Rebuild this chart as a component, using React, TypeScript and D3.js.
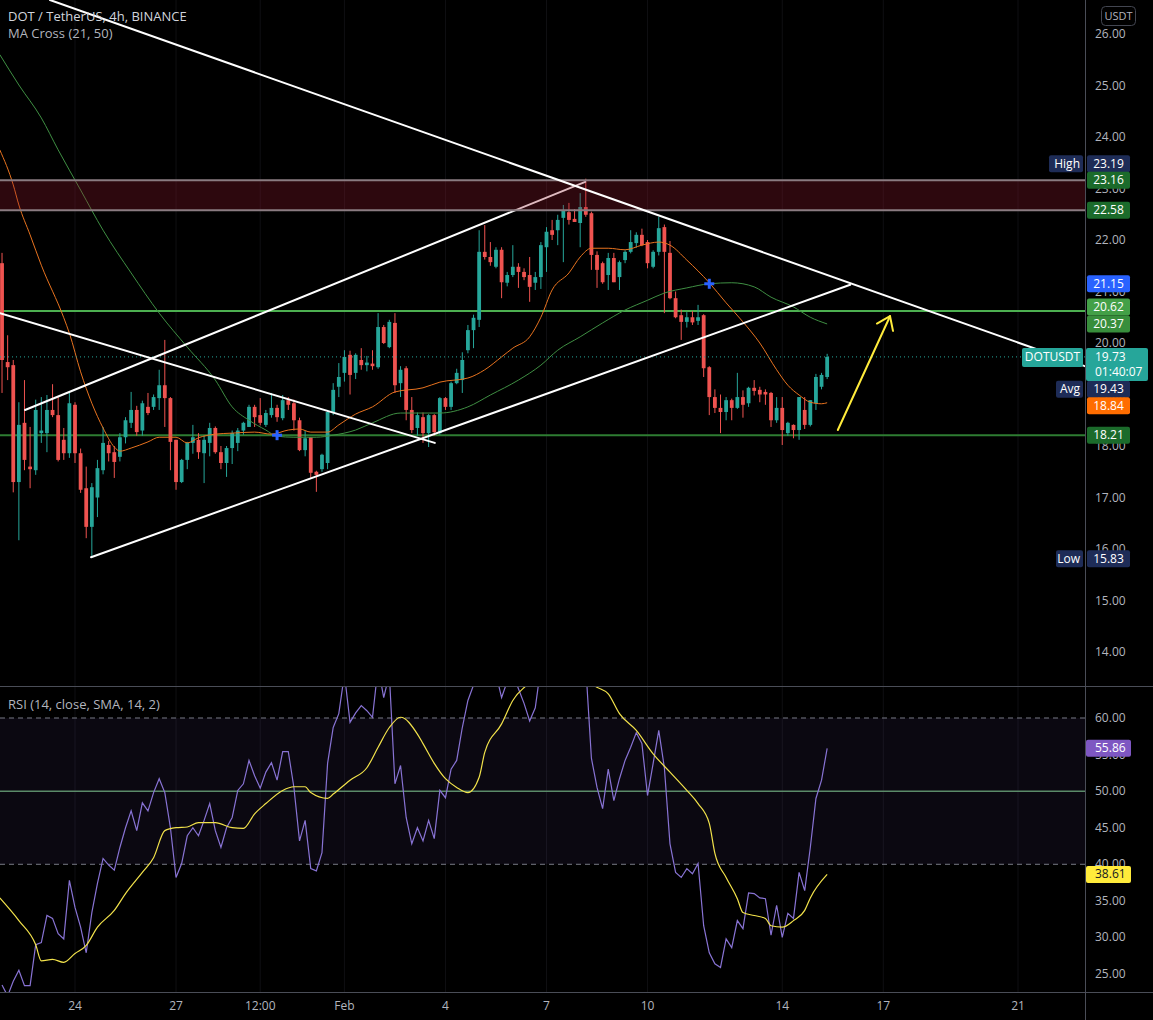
import * as d3 from 'd3'

const FONT = '"Open Sans", "Noto Sans", sans-serif'
const UP = '#26a69a'
const DOWN = '#ef5350'
const TEXT = '#b2b5be'

const W = 1153
const H = 1020
const AXIS_X = 1085
const PRICE_BOTTOM = 686
const RSI_BOTTOM = 992

// first 4h bar visible on the chart
const FIRST_BAR = new Date(2021, 0, 21, 20)
const BAR_MS = 4 * 3600 * 1000

// [open, high, low, close]
const candles: [number, number, number, number][] = [
  [21.55, 21.75, 19.03, 19.67], [19.63, 20.15, 19.28, 19.53], [19.57, 19.67, 17.1, 17.3], [17.3, 18.85, 16.17, 18.41],
  [18.45, 19.28, 17.53, 17.73], [17.6, 18.37, 17.18, 17.55], [17.53, 18.9, 17.44, 18.7], [18.25, 18.95, 18.06, 18.3],
  [18.25, 18.99, 17.88, 18.7], [18.7, 19.2, 18.56, 18.6], [18.6, 18.95, 17.7, 17.73], [18.12, 18.35, 17.73, 17.86],
  [17.86, 19.03, 17.77, 18.83], [18.8, 18.85, 17.67, 17.86], [17.86, 17.95, 17.09, 17.15], [17.18, 17.6, 16.21, 16.43],
  [16.43, 17.28, 15.83, 17.2], [17.0, 17.73, 16.62, 17.57], [17.53, 18.37, 17.45, 18.06], [18.02, 18.1, 17.7, 17.86],
  [17.88, 18.0, 17.38, 17.69], [17.79, 18.25, 17.7, 18.17], [18.17, 18.56, 18.05, 18.5], [18.45, 19.05, 18.35, 18.7],
  [18.7, 18.78, 18.2, 18.27], [18.3, 18.88, 18.2, 18.83], [18.76, 19.03, 18.6, 18.64], [18.76, 19.0, 18.7, 18.95],
  [18.93, 19.48, 18.7, 19.18], [19.18, 20.06, 18.37, 18.93], [18.93, 18.95, 17.53, 18.08], [18.12, 18.12, 17.15, 17.3],
  [17.3, 17.75, 17.28, 17.73], [17.73, 18.08, 17.55, 18.06], [18.06, 18.41, 17.85, 18.17], [18.12, 18.25, 17.75, 17.88],
  [17.86, 18.2, 17.28, 18.12], [18.06, 18.45, 17.8, 18.35], [18.35, 18.38, 17.85, 17.88], [17.88, 18.0, 17.55, 17.67],
  [17.67, 18.0, 17.4, 17.96], [17.96, 18.3, 17.65, 18.25], [18.06, 18.35, 17.9, 18.3], [18.3, 18.47, 18.22, 18.45],
  [18.37, 18.8, 18.37, 18.76], [18.76, 18.8, 18.37, 18.56], [18.6, 18.93, 18.4, 18.45], [18.41, 18.7, 18.37, 18.64],
  [18.6, 19.03, 18.55, 18.74], [18.74, 18.8, 18.47, 18.56], [18.54, 18.99, 18.5, 18.89], [18.89, 18.95, 18.7, 18.8],
  [18.83, 18.9, 18.3, 18.5], [18.5, 18.55, 17.9, 17.92], [17.92, 18.3, 17.8, 18.15], [18.17, 18.17, 17.38, 17.48],
  [17.5, 17.52, 17.11, 17.44], [17.55, 17.85, 17.5, 17.83], [17.67, 18.7, 17.55, 18.66], [18.66, 19.22, 18.6, 19.09],
  [19.15, 19.61, 18.95, 19.34], [19.42, 19.86, 19.25, 19.73], [19.77, 19.85, 19.0, 19.38], [19.42, 19.8, 19.3, 19.77],
  [19.67, 19.9, 19.48, 19.57], [19.57, 19.75, 19.45, 19.62], [19.6, 19.86, 19.48, 19.55], [19.53, 20.58, 19.5, 20.31],
  [20.31, 20.35, 19.98, 20.0], [19.92, 20.45, 19.9, 20.41], [20.39, 20.58, 19.03, 19.18], [19.22, 19.55, 18.95, 19.48],
  [19.51, 19.55, 18.5, 18.7], [18.7, 18.95, 18.25, 18.31], [18.35, 18.65, 18.2, 18.6], [18.56, 18.65, 18.06, 18.25],
  [18.25, 18.62, 17.98, 18.6], [18.6, 18.62, 18.2, 18.27], [18.25, 18.95, 18.22, 18.93], [18.93, 18.95, 18.7, 18.76],
  [18.76, 19.25, 18.7, 19.22], [19.22, 19.5, 19.2, 19.42], [19.28, 19.82, 19.03, 19.67], [19.86, 20.35, 19.8, 20.25],
  [20.25, 20.55, 19.9, 20.49], [20.45, 22.19, 20.31, 21.77], [21.77, 22.29, 21.62, 21.67], [21.67, 21.96, 21.5, 21.57],
  [21.48, 21.86, 21.45, 21.81], [21.81, 21.86, 20.87, 21.18], [21.17, 21.38, 21.1, 21.32], [21.32, 21.9, 21.28, 21.48],
  [21.48, 21.55, 21.07, 21.38], [21.38, 21.45, 21.22, 21.28], [21.32, 21.67, 20.8, 21.09], [21.17, 21.38, 21.03, 21.28],
  [21.28, 21.96, 21.05, 21.9], [21.86, 22.25, 21.38, 22.16], [22.19, 22.39, 22.0, 22.1], [22.19, 22.49, 21.9, 22.39],
  [22.43, 22.68, 21.57, 22.58], [22.54, 22.72, 22.3, 22.39], [22.41, 22.6, 22.35, 22.35], [22.33, 22.91, 21.86, 22.64],
  [22.64, 23.19, 22.45, 22.49], [22.52, 22.55, 21.42, 21.71], [21.71, 21.78, 21.07, 21.42], [21.55, 21.58, 21.15, 21.18],
  [21.32, 21.75, 21.03, 21.65], [21.65, 21.75, 21.18, 21.18], [21.28, 21.6, 21.03, 21.57], [21.61, 21.8, 21.55, 21.77],
  [21.77, 22.19, 21.74, 21.96], [21.94, 22.15, 21.85, 22.1], [22.1, 22.22, 21.88, 21.9], [21.96, 22.0, 21.45, 21.55],
  [21.48, 21.8, 21.45, 21.77], [21.77, 22.45, 21.7, 22.23], [22.25, 22.3, 20.58, 21.77], [21.75, 21.98, 20.85, 20.87],
  [20.87, 21.0, 20.48, 20.5], [20.54, 20.65, 20.06, 20.41], [20.41, 20.6, 20.3, 20.5], [20.5, 20.62, 20.35, 20.4],
  [20.43, 20.74, 20.35, 20.5], [20.54, 20.56, 19.34, 19.51], [19.53, 19.55, 18.6, 18.95], [18.95, 19.1, 18.64, 18.74],
  [18.74, 19.0, 18.25, 18.66], [18.66, 18.95, 18.5, 18.89], [18.89, 18.92, 18.5, 18.74], [18.74, 19.42, 18.72, 18.95],
  [18.95, 19.08, 18.55, 18.8], [18.83, 19.15, 18.76, 19.13], [19.13, 19.28, 18.98, 19.07], [19.09, 19.15, 18.85, 19.0],
  [19.05, 19.1, 18.8, 19.0], [19.03, 19.05, 18.37, 18.5], [18.5, 18.95, 18.45, 18.74], [18.74, 18.95, 18.02, 18.31],
  [18.25, 18.47, 18.2, 18.45], [18.41, 18.42, 18.15, 18.31], [18.31, 18.95, 18.12, 18.95], [18.7, 18.95, 18.33, 18.41],
  [18.41, 18.89, 18.38, 18.89], [18.83, 19.4, 18.7, 19.34], [19.15, 19.42, 19.1, 19.38], [19.34, 19.79, 19.3, 19.73],
]

// [bar, value]
const ma21Points: [number, number][] = [
  [-0.4, 23.75], [2, 23.07], [3, 22.68], [5, 22.1], [7, 21.51], [11, 20.49], [12, 20.19], [14, 19.44], [16, 18.83],
  [18, 18.35], [20, 17.98], [21, 17.9], [23, 17.96], [26, 18.08], [28, 18.17], [31, 18.17], [33, 18.06], [35, 18.16],
  [38, 18.23], [41, 18.25], [45, 18.27], [48, 18.23], [51, 18.31], [53, 18.33], [55, 18.27], [58, 18.27], [60, 18.41],
  [63, 18.62], [66, 18.76], [70, 19.05], [75, 19.13], [78, 19.24], [83, 19.32], [86, 19.48], [89, 19.73], [91, 19.9],
  [94, 20.12], [96, 20.5], [98, 21.03], [101, 21.36], [103, 21.67], [105, 21.84], [108, 21.84], [111, 21.81],
  [114, 21.9], [117, 21.96], [119, 21.9], [122, 21.61], [126, 21.17], [129, 20.78], [132, 20.41], [135, 20.0],
  [138, 19.48], [140, 19.18], [142, 18.99], [144, 18.85], [146, 18.82], [147, 18.84],
]
const ma50Points: [number, number][] = [
  [-0.4, 25.6], [3, 25.01], [7, 24.37], [10, 23.75], [14, 22.97], [18, 22.19], [23, 21.36], [28, 20.58], [33, 19.92],
  [38, 19.28], [41, 18.76], [44, 18.5], [47, 18.31], [49, 18.19], [52, 18.17], [56, 18.17], [59, 18.21], [63, 18.31],
  [66, 18.45], [71, 18.64], [78, 18.64], [83, 18.76], [87, 18.99], [92, 19.28], [96, 19.57], [99, 19.86], [103, 20.12],
  [107, 20.39], [111, 20.64], [115, 20.83], [118, 20.97], [122, 21.07], [126, 21.15], [130, 21.17], [134, 21.09],
  [137, 20.89], [141, 20.7], [144, 20.5], [147, 20.37],
]
const maCrosses: [number, number][] = [[49, 18.21], [126, 21.15]]

// RSI (14) per bar
const rsiValues = [
  23.5, 22.0, 24.0, 25.5, 23.4, 23.4, 29.0, 29.3, 33.0, 32.6, 30.5, 29.8, 37.8, 34.1, 31.4, 27.9, 33.4, 37.4, 40.8, 39.9,
  39.2, 42.3, 45.0, 47.3, 44.6, 48.4, 47.3, 49.8, 51.7, 49.8, 45.0, 38.2, 40.1, 43.9, 45.0, 43.9, 46.0, 48.3, 44.6, 42.3,
  45.0, 46.4, 50.1, 51.0, 54.2, 52.1, 50.4, 52.6, 53.9, 51.5, 55.4, 55.4, 50.5, 43.2, 46.0, 39.4, 39.1, 41.6, 53.8, 58.7,
  60.6, 66.0, 59.4, 60.7, 61.7, 61.0, 60.1, 67.0, 62.8, 66.0, 51.0, 53.5, 46.4, 42.8, 45.0, 43.2, 46.0, 43.5, 50.1, 49.1,
  53.0, 54.2, 58.7, 62.4, 64.5, 72.0, 70.0, 68.0, 66.0, 62.8, 65.0, 66.0, 64.0, 62.0, 59.6, 61.4, 67.0, 70.0, 68.0, 70.0,
  72.0, 69.0, 68.0, 71.0, 67.0, 54.5, 50.5, 47.6, 53.0, 48.7, 51.7, 54.2, 56.0, 58.0, 56.5, 49.4, 53.8, 58.3, 53.2, 42.8,
  38.9, 38.2, 39.4, 38.7, 40.1, 31.6, 27.9, 26.4, 25.9, 29.8, 28.6, 32.3, 31.2, 36.1, 36.0, 35.4, 35.3, 30.3, 34.4, 30.0,
  33.3, 32.6, 38.9, 36.4, 42.3, 49.0, 51.5, 55.86,
]
// [bar, value] of the RSI moving average
const rsiMaPoints: [number, number][] = [
  [-0.4, 35.4], [3, 32.3], [6, 29.0], [7, 26.8], [9, 27.0], [11, 26.6], [13, 27.8], [15, 28.9], [17, 31.4], [20, 33.7],
  [22, 36.0], [25, 38.9], [27, 40.9], [29, 44.6], [31, 45.0], [33, 45.1], [35, 45.7], [38, 45.7], [41, 45.0], [43, 44.9],
  [45, 46.9], [47, 48.3], [50, 50.1], [52, 50.6], [54, 50.6], [55, 49.8], [58, 49.0], [59, 49.6], [62, 51.5], [65, 53.2],
  [67, 56.0], [69, 58.7], [71, 60.1], [74, 57.8], [75, 56.5], [77, 53.8], [79, 51.7], [81, 50.5], [83, 49.8], [85, 51.9],
  [86, 55.3], [89, 59.2], [91, 62.4], [94, 64.8], [100, 67.0], [106, 64.2], [108, 63.3], [110, 60.6], [113, 58.3],
  [116, 55.1], [119, 52.6], [122, 50.1], [124, 48.3], [126, 45.6], [127, 41.5], [129, 38.2], [131, 35.3], [132, 33.4],
  [134, 33.0], [136, 32.6], [137, 31.6], [139, 31.4], [141, 32.3], [143, 33.7], [144, 35.4], [147, 38.61],
]

// drawings: [bar, price] anchors
const descendingTop: [number, number][] = [[8.55, 26.66], [192.9, 19.55]]
const descendingLeft: [number, number][] = [[-0.36, 20.58], [77.1, 18.06]]
const channelLow: [number, number][] = [[15.86, 15.84], [151.1, 21.13]]
const channelHigh: [number, number][] = [[4.1, 18.7], [103.9, 23.13]]
const arrowLine: [number, number][] = [[148.9, 18.31], [158.2, 20.52]]
const supplyZone = [22.58, 23.16]
const levelUpper = 20.62
const levelLower = 18.21
const lastPrice = 19.73

const priceTicks = [14, 15, 16, 17, 18, 19, 20, 21, 22, 23, 24, 25, 26]
const rsiTicks = [25, 30, 35, 40, 45, 50, 55, 60]
const timeTicks = [
  { date: '2021-01-24T00:00', label: '24' },
  { date: '2021-01-27T00:00', label: '27' },
  { date: '2021-01-29T12:00', label: '12:00' },
  { date: '2021-02-01T00:00', label: 'Feb' },
  { date: '2021-02-04T00:00', label: '4' },
  { date: '2021-02-07T00:00', label: '7' },
  { date: '2021-02-10T00:00', label: '10' },
  { date: '2021-02-14T00:00', label: '14' },
  { date: '2021-02-17T00:00', label: '17' },
  { date: '2021-02-21T00:00', label: '21' },
]

const priceLabels = [
  { value: 23.19, text: '23.19', bg: '#1e2c57', tag: 'High', shift: -15 },
  { value: 23.16, text: '23.16', bg: '#1b6b2b' },
  { value: 22.58, text: '22.58', bg: '#1b6b2b' },
  { value: 21.15, text: '21.15', bg: '#2962ff' },
  { value: 20.62, text: '20.62', bg: '#43a047', shift: -4 },
  { value: 20.37, text: '20.37', bg: '#388e3c' },
  { value: 19.43, text: '19.43', bg: '#1e2c57', tag: 'Avg', shift: 17 },
  { value: 18.84, text: '18.84', bg: '#ff6d00', shift: 3 },
  { value: 18.21, text: '18.21', bg: '#1b6b2b' },
  { value: 15.83, text: '15.83', bg: '#1e2c57', tag: 'Low', shift: 1 },
]

export default function App() {
  const x = d3.scaleTime()
    .domain([new Date('2021-01-24T00:00'), new Date('2021-02-21T00:00')])
    .range([75, 1018])
  const y = d3.scaleLinear().domain([14, 26]).range([652, 34])
  const yr = d3.scaleLinear().domain([25, 60]).range([974, 718])
  const xb = (i: number) => x(new Date(FIRST_BAR.getTime() + i * BAR_MS))

  const maLine = d3.line<[number, number]>()
    .x(d => xb(d[0])).y(d => y(d[1])).curve(d3.curveMonotoneX)
  const rsiLine = d3.line<number>().x((_, i) => xb(i)).y(d => yr(d))
  const rsiMaLine = d3.line<[number, number]>()
    .x(d => xb(d[0])).y(d => yr(d[1])).curve(d3.curveMonotoneX)

  const seg = (p: [number, number][], stroke: string, w = 2) => (
    <line x1={xb(p[0][0])} y1={y(p[0][1])} x2={xb(p[1][0])} y2={y(p[1][1])}
      stroke={stroke} strokeWidth={w} strokeLinecap="round" />
  )

  // yellow arrow head
  const ax1 = xb(arrowLine[0][0]), ay1 = y(arrowLine[0][1])
  const ax2 = xb(arrowLine[1][0]), ay2 = y(arrowLine[1][1])
  const ang = Math.atan2(ay2 - ay1, ax2 - ax1)
  const headL = 15, spread = 0.63
  const head = [ang - spread, ang + spread].map(a => [ax2 - headL * Math.cos(a), ay2 - headL * Math.sin(a)])

  const bw = 3.8

  return (
    <svg width={W} height={H} style={{ position: 'absolute', left: 0, top: 0, background: '#000', display: 'block' }}
      fontFamily={FONT}>
      <defs>
        <clipPath id="pricePane"><rect x={0} y={0} width={AXIS_X} height={PRICE_BOTTOM} /></clipPath>
        <clipPath id="rsiPane"><rect x={0} y={PRICE_BOTTOM + 1} width={AXIS_X} height={RSI_BOTTOM - PRICE_BOTTOM - 1} /></clipPath>
      </defs>
      <rect x={0} y={0} width={W} height={H} fill="#000" />

      {/* faint vertical grid */}
      {timeTicks.map(t => (
        <line key={t.label} x1={x(new Date(t.date))} x2={x(new Date(t.date))} y1={0} y2={RSI_BOTTOM}
          stroke="#0f0f12" strokeWidth={1} />
      ))}

      <g clipPath="url(#pricePane)">
        {/* horizontal levels */}
        <line x1={0} x2={AXIS_X} y1={y(levelUpper)} y2={y(levelUpper)} stroke="#4caf50" strokeWidth={2} />
        <line x1={0} x2={AXIS_X} y1={y(levelLower)} y2={y(levelLower)} stroke="#2e7d32" strokeWidth={2} />

        {/* candles */}
        {candles.map(([o, h, l, c], i) => {
          const cx = xb(i)
          const col = c >= o ? UP : DOWN
          const top = y(Math.max(o, c))
          const bot = y(Math.min(o, c))
          return (
            <g key={i}>
              <line x1={cx} x2={cx} y1={y(h)} y2={y(l)} stroke={col} strokeWidth={1} />
              <rect x={cx - bw / 2} y={top} width={bw} height={Math.max(1, bot - top)} fill={col} />
            </g>
          )
        })}

        {/* moving averages */}
        <path d={maLine(ma50Points) ?? ''} fill="none" stroke="#3f8f43" strokeWidth={1} />
        <path d={maLine(ma21Points) ?? ''} fill="none" stroke="#e8731f" strokeWidth={1} />

        {/* last price dotted line */}
        <line x1={0} x2={AXIS_X} y1={y(lastPrice)} y2={y(lastPrice)} stroke={UP} strokeWidth={1} strokeDasharray="1 3" />

        {/* drawings */}
        {seg(channelHigh, '#ffffff')}
        <rect x={0} y={y(supplyZone[1])} width={AXIS_X} height={y(supplyZone[0]) - y(supplyZone[1])}
          fill="rgb(150,25,45)" fillOpacity={0.3} />
        <line x1={0} x2={AXIS_X} y1={y(supplyZone[1])} y2={y(supplyZone[1])} stroke="#8a7b81" strokeWidth={2} />
        <line x1={0} x2={AXIS_X} y1={y(supplyZone[0])} y2={y(supplyZone[0])} stroke="#8a7b81" strokeWidth={2} />
        {seg(descendingTop, '#ffffff')}
        {seg(descendingLeft, '#ffffff')}
        {seg(channelLow, '#ffffff')}

        <line x1={ax1} y1={ay1} x2={ax2} y2={ay2} stroke="#ffeb3b" strokeWidth={2} strokeLinecap="round" />
        {head.map((p, k) => (
          <line key={k} x1={ax2} y1={ay2} x2={p[0]} y2={p[1]} stroke="#ffeb3b" strokeWidth={2} strokeLinecap="round" />
        ))}

        {/* MA cross markers */}
        {maCrosses.map(([b, v], k) => (
          <g key={k} fill="#2962ff">
            <rect x={xb(b) - 5} y={y(v) - 1.5} width={10} height={3} />
            <rect x={xb(b) - 1.5} y={y(v) - 5} width={3} height={10} />
          </g>
        ))}
      </g>

      {/* RSI pane */}
      <g clipPath="url(#rsiPane)">
        <rect x={0} y={yr(60)} width={AXIS_X} height={yr(40) - yr(60)} fill="rgb(126,87,194)" fillOpacity={0.09} />
        <line x1={0} x2={AXIS_X} y1={yr(60)} y2={yr(60)} stroke="#787b86" strokeDasharray="5 4" />
        <line x1={0} x2={AXIS_X} y1={yr(40)} y2={yr(40)} stroke="#787b86" strokeDasharray="5 4" />
        <line x1={0} x2={AXIS_X} y1={yr(50)} y2={yr(50)} stroke="#5b8a69" strokeWidth={1.5} />
        <path d={rsiLine(rsiValues) ?? ''} fill="none" stroke="#8873d4" strokeWidth={1.2} />
        <path d={rsiMaLine(rsiMaPoints) ?? ''} fill="none" stroke="#f2e24b" strokeWidth={1.2} />
      </g>

      {/* separators */}
      <line x1={0} x2={W} y1={PRICE_BOTTOM + 0.5} y2={PRICE_BOTTOM + 0.5} stroke="#4a4d57" />
      <line x1={0} x2={W} y1={RSI_BOTTOM + 0.5} y2={RSI_BOTTOM + 0.5} stroke="#4a4d57" />
      <line x1={AXIS_X + 0.5} x2={AXIS_X + 0.5} y1={0} y2={H} stroke="#4a4d57" />

      {/* titles */}
      <text x={8} y={21} fontSize={13} fill="#d1d4dc">DOT / TetherUS, 4h, BINANCE</text>
      <text x={8} y={38} fontSize={13} fill={TEXT}>MA Cross (21, 50)</text>
      <text x={8} y={709} fontSize={13} fill={TEXT}>RSI (14, close, SMA, 14, 2)</text>

      {/* price axis */}
      <rect x={1101.5} y={6.5} width={34} height={19} rx={4} fill="none" stroke="#434651" />
      <text x={1118.5} y={20} fontSize={11} fill={TEXT} textAnchor="middle">USDT</text>
      {priceTicks.map(t => (
        <text key={t} x={1095} y={y(t) + 4} fontSize={12} fill={TEXT}>{t.toFixed(2)}</text>
      ))}
      {priceLabels.map(l => {
        const cy = y(l.value) + (l.shift ?? 0)
        return (
          <g key={l.text}>
            <rect x={1087} y={cy - 8.5} width={43} height={17} rx={2} fill={l.bg} />
            <text x={1108.5} y={cy + 4} fontSize={12} fill="#fff" textAnchor="middle">{l.text}</text>
            {l.tag && (
              <g>
                <rect x={1083 - l.tag.length * 7 - 6} y={cy - 8.5} width={l.tag.length * 7 + 6} height={17} rx={2} fill={l.bg} />
                <text x={1080} y={cy + 4} fontSize={12} fill="#fff" textAnchor="end">{l.tag}</text>
              </g>
            )}
          </g>
        )
      })}
      {/* last price label */}
      <g>
        <rect x={1022} y={y(lastPrice) - 9} width={61} height={19} rx={2} fill={UP} />
        <text x={1052.5} y={y(lastPrice) + 4} fontSize={12} fill="#fff" textAnchor="middle">DOTUSDT</text>
        <rect x={1086} y={y(lastPrice) - 9} width={62} height={33} rx={2} fill={UP} />
        <text x={1095} y={y(lastPrice) + 4} fontSize={12} fill="#fff">{lastPrice.toFixed(2)}</text>
        <text x={1095} y={y(lastPrice) + 19} fontSize={12} fill="#fff">01:40:07</text>
      </g>

      {/* RSI axis */}
      {rsiTicks.map(t => (
        <text key={t} x={1095} y={yr(t) + 4} fontSize={12} fill={TEXT}>{t.toFixed(2)}</text>
      ))}
      <rect x={1086} y={yr(rsiValues[rsiValues.length - 1]) - 8.5} width={45} height={17} rx={2} fill="#7e57c2" />
      <text x={1095} y={yr(rsiValues[rsiValues.length - 1]) + 4} fontSize={12} fill="#fff">
        {rsiValues[rsiValues.length - 1].toFixed(2)}
      </text>
      <rect x={1086} y={yr(rsiMaPoints[rsiMaPoints.length - 1][1]) - 8.5} width={45} height={17} rx={2} fill="#ffeb3b" />
      <text x={1095} y={yr(rsiMaPoints[rsiMaPoints.length - 1][1]) + 4} fontSize={12} fill="#131722">
        {rsiMaPoints[rsiMaPoints.length - 1][1].toFixed(2)}
      </text>

      {/* time axis */}
      {timeTicks.map(t => (
        <text key={t.label} x={x(new Date(t.date))} y={1010} fontSize={12} fill={TEXT} textAnchor="middle">{t.label}</text>
      ))}
    </svg>
  )
}
